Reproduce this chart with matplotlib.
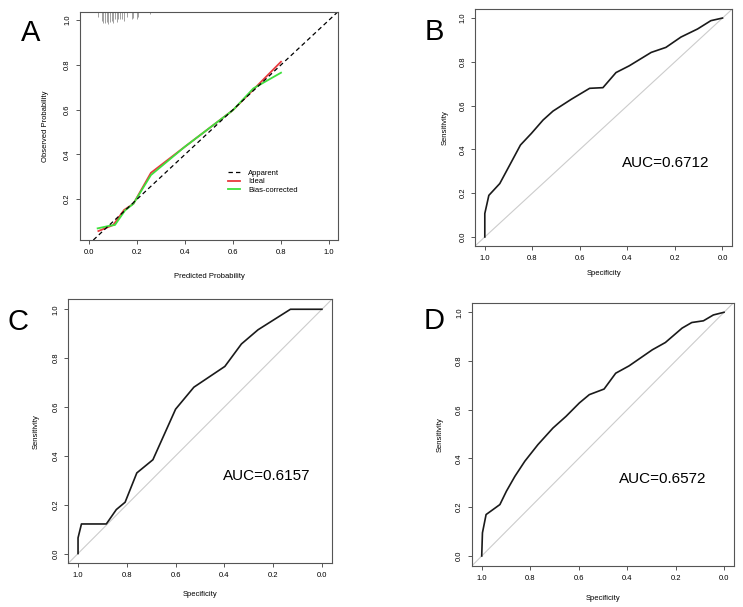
import numpy as np
import matplotlib.pyplot as plt

plt.rcParams['font.family'] = ['Liberation Sans', 'DejaVu Sans']

# ---------------- panel A : calibration curve ----------------
cal_pred_ideal = [0.039, 0.101, 0.146, 0.185, 0.258, 0.40, 0.60, 0.80]
cal_obs_ideal = [0.058, 0.085, 0.152, 0.18, 0.318, 0.435, 0.598, 0.814]
cal_pred_bias = [0.036, 0.0875, 0.108, 0.15, 0.185, 0.258, 0.40, 0.60, 0.685, 0.80]
cal_obs_bias = [0.07, 0.082, 0.085, 0.15, 0.18, 0.308, 0.435, 0.598, 0.695, 0.765]
# rug of predicted probabilities (position, relative height)
rug_x = [0.039, 0.053, 0.06, 0.067, 0.074, 0.08, 0.0875, 0.094, 0.101, 0.108, 0.115,
         0.122, 0.129, 0.136, 0.147, 0.157, 0.178, 0.185, 0.199, 0.203, 0.254]
rug_h = [5, 9, 10.7, 11.3, 10, 12.3, 10, 9, 10.7, 7.3, 10,
         7.3, 6.7, 7.3, 9, 5, 7.3, 5.7, 7.3, 4.7, 2.3]

# ---------------- ROC curves ----------------
spec_b = [1.0, 1.0, 0.983, 0.937, 0.888, 0.85, 0.804, 0.755, 0.713, 0.636, 0.559,
          0.503, 0.448, 0.392, 0.30, 0.238, 0.175, 0.105, 0.049, 0.0]
sens_b = [0.0, 0.107, 0.19, 0.244, 0.343, 0.42, 0.473, 0.534, 0.575, 0.629, 0.679,
          0.682, 0.751, 0.782, 0.843, 0.866, 0.913, 0.95, 0.988, 1.0]
auc_b = 'AUC=0.6712'

spec_c = [1.0, 1.0, 0.986, 0.884, 0.843, 0.807, 0.759, 0.693, 0.60, 0.525, 0.398,
          0.33, 0.262, 0.129, 0.0]
sens_c = [0.0, 0.064, 0.121, 0.121, 0.18, 0.21, 0.33, 0.384, 0.591, 0.681, 0.766,
          0.858, 0.916, 1.0, 1.0]
auc_c = 'AUC=0.6157'

spec_d = [1.0, 0.997, 0.982, 0.925, 0.898, 0.863, 0.822, 0.768, 0.706, 0.652, 0.597,
          0.556, 0.495, 0.447, 0.392, 0.296, 0.242, 0.173, 0.133, 0.085, 0.044, 0.0]
sens_d = [0.0, 0.095, 0.17, 0.211, 0.266, 0.327, 0.389, 0.457, 0.525, 0.573, 0.628,
          0.662, 0.685, 0.75, 0.78, 0.846, 0.876, 0.935, 0.958, 0.965, 0.989, 1.0]
auc_d = 'AUC=0.6572'

ticks = [0.0, 0.2, 0.4, 0.6, 0.8, 1.0]
tick_labels = ['0.0', '0.2', '0.4', '0.6', '0.8', '1.0']

box_col = '#555555'
small = 5.5


def style_axes(ax):  # R base graphics look
    for s in ax.spines.values():
        s.set_color(box_col)
        s.set_linewidth(0.8)
    ax.tick_params(length=3, width=0.7, color=box_col, labelsize=small, pad=3.5)
    for lab in ax.get_yticklabels():
        lab.set_rotation(90)
        lab.set_va('center')


fig = plt.figure(figsize=(7.43, 6.07), dpi=100)

# panel A
axA = fig.add_axes([0.1077, 0.6046, 0.3472, 0.3756])
axA.set_xlim(-0.0375, 1.0375)
axA.set_ylim(0.018, 1.036)
axA.vlines(rug_x, [1 - h / 228 for h in rug_h], 1.0, transform=axA.get_xaxis_transform(),
           color='#a0a0a0', linewidth=0.7)
axA.plot(cal_pred_ideal, cal_obs_ideal, color='#e8383d', linewidth=1.3, label='Ideal')
axA.plot(cal_pred_bias, cal_obs_bias, color='#3ee03e', linewidth=1.3, label='Bias-corrected')
axA.axline((0, 0), (1, 1), color='black', linewidth=0.9, dashes=(3.5, 2.5), label='Apparent')
axA.set_xticks(ticks)
axA.set_xticklabels(tick_labels)
axA.set_yticks(ticks[1:])
axA.set_yticklabels(tick_labels[1:])
axA.set_xlabel('Predicted Probability', fontsize=small)
axA.set_ylabel('Observed Probability', fontsize=small)
axA.xaxis.set_label_coords(0.5, -0.143)
axA.yaxis.set_label_coords(-0.12, 0.5)
h, l = axA.get_legend_handles_labels()
order = [2, 0, 1]
axA.legend([h[i] for i in order], [l[i] for i in order], loc='upper left',
           bbox_to_anchor=(0.572, 0.309), frameon=False, fontsize=small,
           handlelength=1.6, handletextpad=1.1, labelspacing=0.15,
           borderpad=0, borderaxespad=0)
style_axes(axA)

# ROC panels
roc_panels = [
    ([0.6397, 0.5952, 0.3455, 0.3895], spec_b, sens_b, auc_b, (0.7425, 0.35), (-0.103, -0.102)),
    ([0.0919, 0.0720, 0.3545, 0.4346], spec_c, sens_c, auc_c, (0.755, 0.331), (-0.105, -0.107)),
    ([0.6353, 0.0680, 0.3522, 0.4336], spec_d, sens_d, auc_d, (0.729, 0.329), (-0.111, -0.108)),
]
for rect, spec, sens, auc, tpos, lpos in roc_panels:
    ax = fig.add_axes(rect)
    ax.set_xlim(1.04, -0.04)
    ax.set_ylim(-0.04, 1.04)
    ax.axline((1, 0), (0, 1), color='#cccccc', linewidth=0.8)
    ax.plot(spec, sens, color='#1a1a1a', linewidth=1.2)
    ax.text(tpos[0], tpos[1], auc, transform=ax.transAxes, fontsize=11,
            ha='center', va='center')
    ax.set_xticks(ticks)
    ax.set_xticklabels(tick_labels)
    ax.set_yticks(ticks)
    ax.set_yticklabels(tick_labels)
    ax.set_xlabel('Specificity', fontsize=small)
    ax.set_ylabel('Sensitivity', fontsize=small)
    ax.xaxis.set_label_coords(0.5, lpos[0])
    ax.yaxis.set_label_coords(lpos[1], 0.5)
    style_axes(ax)

# panel letters
for letter, x, y in [('A', 31, 41), ('B', 434, 40), ('C', 17.8, 330), ('D', 434, 329)]:
    fig.text(x / 743, 1 - y / 607, letter, fontsize=21, ha='center', va='baseline')

fig.savefig('out.png', dpi=100)
